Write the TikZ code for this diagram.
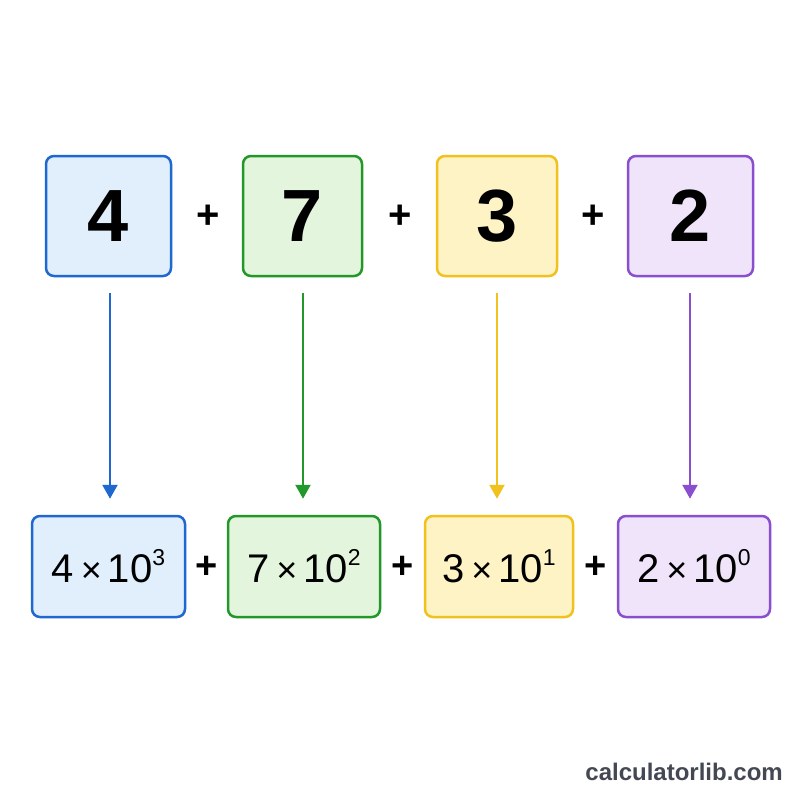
\documentclass[tikz,border=0pt]{standalone}
\usepackage{fontspec}
\setmainfont{Liberation Sans}
\usetikzlibrary{arrows.meta}
\definecolor{bB}{HTML}{1F68CF}\definecolor{bF}{HTML}{E1EEFC}
\definecolor{gB}{HTML}{22982A}\definecolor{gF}{HTML}{E4F5DD}
\definecolor{yB}{HTML}{F1C21E}\definecolor{yF}{HTML}{FDF3C5}
\definecolor{pB}{HTML}{8A4FCF}\definecolor{pF}{HTML}{EFE4FA}
\definecolor{wm}{HTML}{434852}
\newcommand{\pw}[2]{#1\hspace{7pt}{\fontsize{36}{36}\selectfont ×}\hspace{6pt}10\raisebox{0.8ex}{\fontsize{23}{23}\selectfont #2}}
\tikzset{
  topbox/.style={draw=#1B,fill=#1F,line width=2.5pt,rounded corners=8pt,minimum height=120pt,inner sep=0pt,font=\fontsize{74}{74}\selectfont\bfseries},
  botbox/.style={draw=#1B,fill=#1F,line width=2.5pt,rounded corners=8pt,minimum height=101pt,inner sep=0pt,font=\fontsize{40}{40}\selectfont},
  plustop/.style={inner sep=0pt,font=\fontsize{40}{40}\selectfont\bfseries},
  plusbot/.style={inner sep=0pt,font=\fontsize{38}{38}\selectfont\bfseries},
  conn/.style={draw=#1B,line width=2.4pt,-{Triangle[width=15pt,length=14pt]},shorten <=16pt,shorten >=16pt}
}
\begin{document}
\begin{tikzpicture}[x=1pt,y=-1pt]
\useasboundingbox[fill=white] (0,0) rectangle (800,800);
\node[topbox=b,minimum width=125pt] (t1) at (108.5,216) {4};
\node[topbox=g,minimum width=119pt] (t2) at (302.5,216) {7};
\node[topbox=y,minimum width=120pt] (t3) at (497,216) {3};
\node[topbox=p,minimum width=125pt] (t4) at (690.5,216) {2};
\node[plustop] (tp1) at (208,217) {+};
\node[plustop] (tp2) at (400,217) {+};
\node[plustop] (tp3) at (593,217) {+};
\node[botbox=b,minimum width=153pt] (b1) at (108.5,566.5) {\pw{4}{3}};
\node[botbox=g,minimum width=152pt] (b2) at (304,566.5) {\pw{7}{2}};
\node[botbox=y,minimum width=148pt] (b3) at (499,566.5) {\pw{3}{1}};
\node[botbox=p,minimum width=152pt] (b4) at (694,566.5) {\pw{2}{0}};
\node[plusbot] (bp1) at (207,567) {+};
\node[plusbot] (bp2) at (403,567) {+};
\node[plusbot] (bp3) at (596,567) {+};
\draw[conn=b] (t1.south -| 110,0) -- (b1.north -| 110,0);
\draw[conn=g] (t2.south -| 303,0) -- (b2.north -| 303,0);
\draw[conn=y] (t3.south -| 497,0) -- (b3.north -| 497,0);
\draw[conn=p] (t4.south -| 690,0) -- (b4.north -| 690,0);
\node[text=wm,font=\fontsize{24}{24}\selectfont\bfseries,anchor=east,inner sep=0pt] (wmk) at (783,772) {calculatorlib.com};
\end{tikzpicture}
\end{document}
